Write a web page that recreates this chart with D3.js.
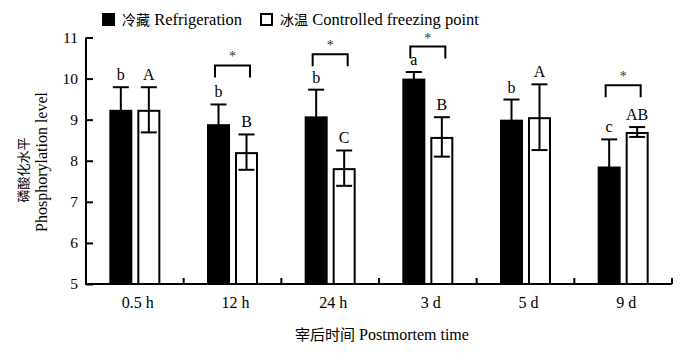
<!DOCTYPE html>
<html>
<head>
<meta charset="utf-8">
<script src="https://cdn.jsdelivr.net/npm/d3@7"></script>
<style>
  body { margin: 0; background: #fff; }
</style>
</head>
<body>
<div id="chart"></div>
<script>
// values
const times = ["0.5 h", "12 h", "24 h", "3 d", "5 d", "9 d"];
const refrigMean = [9.24, 8.89, 9.08, 10.0, 9.0, 7.86];
const refrigErr = [0.55, 0.48, 0.65, 0.16, 0.49, 0.66];
const freezeMean = [9.24, 8.21, 7.82, 8.58, 9.06, 8.70];
const freezeErr = [0.55, 0.43, 0.43, 0.48, 0.80, 0.12];
const refrigLetters = ["b", "b", "b", "a", "b", "c"];
const freezeLetters = ["A", "B", "C", "B", "A", "AB"];
// significance bracket heights (null = none)
const sigLevel = [null, 10.32, 10.59, 10.78, null, 9.84];
const yTicks = [5, 6, 7, 8, 9, 10, 11];

const SERIF = "'Liberation Serif', 'Times New Roman', 'DejaVu Serif', serif";
const CJK = "'Noto Sans CJK SC', sans-serif";

const totalWidth = 698, totalHeight = 362;
const margin = { top: 37.5, right: 26, bottom: 78, left: 86 };

const svg = d3.select("#chart").append("svg")
  .attr("width", totalWidth)
  .attr("height", totalHeight)
  .style("font-family", SERIF);

const x = d3.scaleBand()
  .domain(times)
  .range([margin.left, totalWidth - margin.right]);

const inner = d3.scaleBand()
  .domain(["r", "c"])
  .range([-25.5, 25.5])
  .paddingInner(0.1786);

const y = d3.scaleLinear()
  .domain([5, 11])
  .range([totalHeight - margin.bottom, margin.top]);

const rows = times.map((t, i) => ({
  t, i,
  bars: [
    { k: "r", v: refrigMean[i], e: refrigErr[i], lab: refrigLetters[i] },
    { k: "c", v: freezeMean[i], e: freezeErr[i], lab: freezeLetters[i] }
  ]
}));

const center = t => x(t) + x.bandwidth() / 2;

const groups = svg.selectAll("g.grp")
  .data(rows)
  .enter()
  .append("g")
  .attr("class", "grp")
  .attr("transform", d => `translate(${center(d.t)},0)`);

const bars = groups.selectAll("g.bar")
  .data(d => d.bars)
  .enter()
  .append("g");

// bars (white ones get a 2px outline drawn inside the box)
bars.append("rect")
  .attr("x", d => inner(d.k) + (d.k === "c" ? 1 : 0))
  .attr("y", d => y(d.v) + (d.k === "c" ? 1 : 0))
  .attr("width", d => inner.bandwidth() - (d.k === "c" ? 2 : 0))
  .attr("height", d => y(5) - y(d.v) - (d.k === "c" ? 1 : 0))
  .attr("fill", d => d.k === "r" ? "#000" : "#fff")
  .attr("stroke", "#000")
  .attr("stroke-width", d => d.k === "c" ? 2 : 0);

// error bars
const cap = 8;
const mid = d => inner(d.k) + inner.bandwidth() / 2;
bars.append("line")
  .attr("x1", mid).attr("x2", mid)
  .attr("y1", d => y(d.v + d.e)).attr("y2", d => y(d.v - d.e))
  .attr("stroke", "#000").attr("stroke-width", 2);
bars.append("line")
  .attr("x1", d => mid(d) - cap).attr("x2", d => mid(d) + cap)
  .attr("y1", d => y(d.v + d.e)).attr("y2", d => y(d.v + d.e))
  .attr("stroke", "#000").attr("stroke-width", 2);
bars.append("line")
  .attr("x1", d => mid(d) - cap).attr("x2", d => mid(d) + cap)
  .attr("y1", d => y(d.v - d.e)).attr("y2", d => y(d.v - d.e))
  .attr("stroke", "#000").attr("stroke-width", 2);

// letters
bars.append("text")
  .attr("x", mid)
  .attr("y", d => y(d.v + d.e) - 7)
  .attr("text-anchor", "middle")
  .style("font-size", "16px")
  .style("font-family", SERIF)
  .text(d => d.lab);

// significance brackets
const sig = groups.filter(d => sigLevel[d.i] !== null);
sig.append("path")
  .attr("d", d => {
    const top = y(sigLevel[d.i]);
    return `M-17.5,${top + 12}V${top}H17.5V${top + 12}`;
  })
  .attr("fill", "none")
  .attr("stroke", "#000")
  .attr("stroke-width", 2);
sig.append("text")
  .attr("x", 0)
  .attr("y", d => y(sigLevel[d.i]) - 4)
  .attr("text-anchor", "middle")
  .style("font-size", "14px")
  .style("font-family", SERIF)
  .style("fill", "#333")
  .text("*");

// axes
const xAxis = svg.append("g")
  .attr("transform", `translate(0,${y(5)})`);
xAxis.append("line")
  .attr("x1", margin.left).attr("x2", totalWidth - margin.right)
  .attr("stroke", "#000").attr("stroke-width", 2);
xAxis.selectAll("line.tk")
  .data(times)
  .enter()
  .append("line")
  .attr("class", "tk")
  .attr("x1", d => x(d) + x.bandwidth()).attr("x2", d => x(d) + x.bandwidth())
  .attr("y1", 0).attr("y2", -6)
  .attr("stroke", "#000").attr("stroke-width", 2);
xAxis.selectAll("text")
  .data(times)
  .enter()
  .append("text")
  .attr("x", d => center(d) + 3)
  .attr("y", 24)
  .attr("text-anchor", "middle")
  .style("font-size", "16px")
  .style("font-family", SERIF)
  .text(d => d);

const yAxis = svg.append("g")
  .attr("transform", `translate(${margin.left},0)`)
  .call(d3.axisLeft(y).tickValues(yTicks).tickSize(-7).tickPadding(8).tickFormat(d3.format("d")));
yAxis.attr("font-family", null);
yAxis.select(".domain")
  .attr("d", `M0,${y(11)}V${y(5) + 1}`)
  .attr("stroke-width", 2);
yAxis.selectAll(".tick line").attr("stroke-width", 2);
yAxis.selectAll(".tick text")
  .style("font-size", "15.5px")
  .style("font-family", SERIF);

// axis titles
const xt = svg.append("text")
  .attr("x", 382)
  .attr("y", 340)
  .attr("text-anchor", "middle")
  .style("font-size", "16px")
  .style("font-family", SERIF);
xt.append("tspan").style("font-family", CJK).style("font-size", "15px").text("宰后时间");
xt.append("tspan").text(" Postmortem time");

svg.append("text")
  .attr("transform", "translate(28,170) rotate(-90)")
  .attr("text-anchor", "middle")
  .style("font-family", CJK)
  .style("font-size", "13px")
  .style("fill", "#000")
  .text("磷酸化水平");
svg.append("text")
  .attr("transform", "translate(47,162) rotate(-90)")
  .attr("text-anchor", "middle")
  .style("font-size", "16px")
  .style("font-family", SERIF)
  .text("Phosphorylation level");

// legend
const legendItems = [
  { fill: "#000", cjk: "冷藏", en: " Refrigeration", x: 102 },
  { fill: "#fff", cjk: "冰温", en: " Controlled freezing point", x: 260 }
];
const leg = svg.selectAll("g.leg")
  .data(legendItems)
  .enter()
  .append("g")
  .attr("transform", d => `translate(${d.x},13)`);
leg.append("rect")
  .attr("x", 1).attr("y", 1)
  .attr("width", 11).attr("height", 11)
  .attr("fill", d => d.fill)
  .attr("stroke", "#000")
  .attr("stroke-width", 2);
const lt = leg.append("text")
  .attr("x", 20)
  .attr("y", 12)
  .style("font-size", "16.5px")
  .style("font-family", SERIF);
lt.append("tspan").style("font-family", CJK).style("font-size", "14px").text(d => d.cjk);
lt.append("tspan").text(d => d.en);
</script>
</body>
</html>
